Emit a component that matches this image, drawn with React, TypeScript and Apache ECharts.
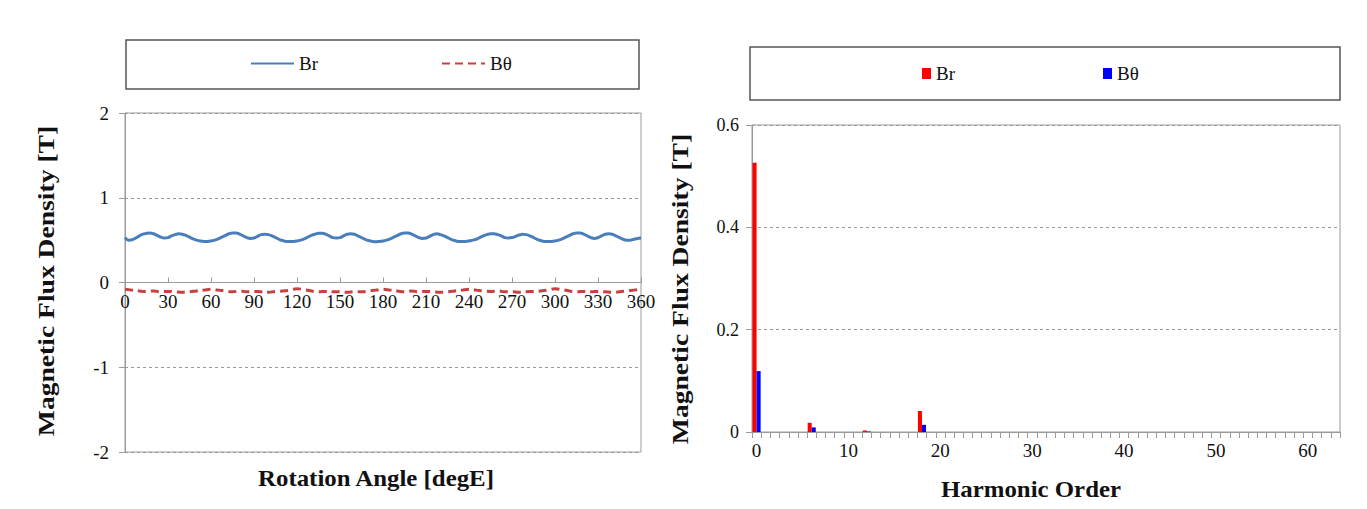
import React, { useEffect, useRef } from "react";
import * as echarts from "echarts";

// ---- Left chart: air-gap flux density vs rotation angle ----
const brStep = 2.5; // degE between Br samples
const brValues = [
  0.53, 0.50, 0.505, 0.525, 0.55, 0.57, 0.58, 0.585, 0.575, 0.555, 0.535, 0.525,
  0.53, 0.55, 0.565, 0.575, 0.57, 0.555, 0.535, 0.515, 0.50, 0.49, 0.485, 0.485,
  0.49, 0.50, 0.515, 0.535, 0.555, 0.575, 0.585, 0.585, 0.57, 0.55, 0.53, 0.52,
  0.525, 0.545, 0.565, 0.57, 0.565, 0.55, 0.53, 0.51, 0.495, 0.485, 0.485, 0.485,
  0.49, 0.50, 0.515, 0.535, 0.555, 0.57, 0.58, 0.58, 0.57, 0.55, 0.53, 0.525,
  0.53, 0.55, 0.57, 0.575, 0.57, 0.55, 0.53, 0.51, 0.495, 0.485, 0.48, 0.485,
  0.49, 0.50, 0.515, 0.535, 0.555, 0.575, 0.585, 0.585, 0.57, 0.55, 0.53, 0.52,
  0.525, 0.545, 0.565, 0.575, 0.565, 0.55, 0.53, 0.51, 0.495, 0.485, 0.485, 0.485,
  0.49, 0.50, 0.51, 0.53, 0.55, 0.565, 0.575, 0.575, 0.565, 0.55, 0.53, 0.525,
  0.53, 0.545, 0.56, 0.57, 0.565, 0.55, 0.53, 0.51, 0.495, 0.485, 0.485, 0.485,
  0.49, 0.50, 0.515, 0.535, 0.555, 0.575, 0.585, 0.585, 0.57, 0.55, 0.53, 0.52,
  0.53, 0.55, 0.57, 0.575, 0.57, 0.55, 0.53, 0.51, 0.50, 0.50, 0.51, 0.52,
  0.525,
];
const bthetaStep = 5; // degE between Bθ samples
const bthetaValues = [
  -0.08, -0.09, -0.10, -0.105, -0.10, -0.11, -0.105, -0.11, -0.115, -0.11, -0.10, -0.09,
  -0.08, -0.09, -0.10, -0.11, -0.10, -0.11, -0.105, -0.11, -0.115, -0.105, -0.10, -0.09,
  -0.075, -0.085, -0.10, -0.11, -0.105, -0.11, -0.11, -0.115, -0.11, -0.11, -0.10, -0.09,
  -0.08, -0.09, -0.10, -0.11, -0.10, -0.11, -0.105, -0.11, -0.115, -0.11, -0.10, -0.09,
  -0.08, -0.09, -0.10, -0.105, -0.10, -0.11, -0.11, -0.115, -0.11, -0.105, -0.10, -0.09,
  -0.075, -0.085, -0.10, -0.11, -0.105, -0.11, -0.105, -0.11, -0.115, -0.11, -0.10, -0.09,
  -0.08,
];
const brAngles = brValues.map((_, i) => i * brStep);
const bthetaAngles = bthetaValues.map((_, i) => i * bthetaStep);

// ---- Right chart: harmonic spectrum ----
const harmonicOrders = Array.from({ length: 64 }, (_, i) => String(i));
const brHarmonics = [
  0.526, 0, 0, 0, 0, 0, 0.018, 0, 0, 0,
  0, 0, 0.003, 0, 0, 0, 0, 0, 0.041, 0,
  0, 0, 0, 0, 0, 0, 0, 0, 0, 0,
  0, 0, 0, 0, 0, 0, 0, 0, 0, 0,
  0, 0, 0, 0, 0, 0, 0, 0, 0, 0,
  0, 0, 0, 0, 0, 0, 0, 0, 0, 0,
  0, 0, 0, 0,
];
const bthetaHarmonics = [
  0.119, 0, 0, 0, 0, 0, 0.009, 0, 0, 0,
  0, 0, 0.001, 0, 0, 0, 0, 0, 0.014, 0,
  0, 0, 0, 0, 0, 0, 0, 0, 0, 0,
  0, 0, 0, 0, 0, 0, 0, 0, 0, 0,
  0, 0, 0, 0, 0, 0, 0, 0, 0, 0,
  0, 0, 0, 0, 0, 0, 0, 0, 0, 0,
  0, 0, 0, 0,
];

const leftYTicks = { min: -2, max: 2, interval: 1 };
const leftXTicks = { min: 0, max: 360, interval: 30 };
const rightYTicks = { min: 0, max: 0.6, interval: 0.2 };

const SERIF = "'Liberation Serif', 'Times New Roman', serif";
const GRID_GREY = "#9a9a9a";

const LEFT_GRID = { left: 125, top: 113, width: 516, height: 339 };
const RIGHT_GRID = { left: 752, top: 125, width: 588, height: 307 };

export default function App() {
  const ref = useRef<HTMLDivElement>(null);

  useEffect(() => {
    if (!ref.current) return;
    const chart = echarts.init(ref.current, undefined, { renderer: "svg" });

    const tickLabel = { fontFamily: SERIF, fontSize: 19, color: "#111" };
    const titleFont = `bold 23px ${SERIF}`;

    chart.setOption({
      animation: false,
      backgroundColor: "#ffffff",
      grid: [
        { ...LEFT_GRID, show: true, borderColor: GRID_GREY, borderWidth: 1 },
        { ...RIGHT_GRID, show: true, borderColor: GRID_GREY, borderWidth: 1 },
      ],
      xAxis: [
        {
          gridIndex: 0,
          type: "value",
          position: "bottom",
          // axis line sits on the zero of the y scale (middle of -2..2)
          offset: -LEFT_GRID.height / 2,
          min: leftXTicks.min,
          max: leftXTicks.max,
          interval: leftXTicks.interval,
          axisLine: { show: true, onZero: false, lineStyle: { color: GRID_GREY, width: 1 } },
          axisTick: { show: true, inside: true, length: 5, lineStyle: { color: GRID_GREY } },
          axisLabel: { ...tickLabel, margin: 9 },
          splitLine: { show: false },
        },
        {
          gridIndex: 1,
          type: "category",
          data: harmonicOrders,
          boundaryGap: true,
          axisLine: { show: true, lineStyle: { color: GRID_GREY, width: 1 } },
          axisTick: { show: true, interval: 0, length: 6, alignWithLabel: false, lineStyle: { color: GRID_GREY } },
          axisLabel: { ...tickLabel, interval: 9, margin: 9 },
          splitLine: { show: false },
        },
      ],
      yAxis: [
        {
          gridIndex: 0,
          type: "value",
          min: leftYTicks.min,
          max: leftYTicks.max,
          interval: leftYTicks.interval,
          axisLine: { show: true, onZero: false, lineStyle: { color: GRID_GREY } },
          axisTick: { show: true, length: 6, lineStyle: { color: GRID_GREY } },
          axisLabel: { ...tickLabel, margin: 16 },
          splitLine: { show: true, lineStyle: { color: GRID_GREY, type: [3, 3], width: 1 } },
        },
        {
          gridIndex: 1,
          type: "value",
          min: rightYTicks.min,
          max: rightYTicks.max,
          interval: rightYTicks.interval,
          axisLine: { show: true, lineStyle: { color: GRID_GREY } },
          axisTick: { show: true, length: 6, lineStyle: { color: GRID_GREY } },
          axisLabel: {
            ...tickLabel,
            fontSize: 18,
            margin: 13,
            formatter: (v: number) => String(Math.round(v * 10) / 10),
          },
          splitLine: { show: true, lineStyle: { color: GRID_GREY, type: [3, 3], width: 1 } },
        },
      ],
      legend: [
        {
          data: ["Br", "Bθ"],
          left: 250,
          top: 54,
          padding: 0,
          itemWidth: 43,
          itemHeight: 14,
          itemGap: 123,
          itemStyle: { opacity: 0 },
          lineStyle: { opacity: 1 },
          textStyle: { fontFamily: SERIF, fontSize: 19, color: "#111" },
          selectedMode: false,
        },
        {
          data: ["Br ", "Bθ "],
          left: 922,
          top: 64,
          padding: 0,
          icon: "rect",
          itemWidth: 9,
          itemHeight: 11,
          itemGap: 148,
          formatter: (n: string) => n.trim(),
          textStyle: { fontFamily: SERIF, fontSize: 19, color: "#111" },
          selectedMode: false,
        },
      ],
      series: [
        {
          name: "Br",
          type: "line",
          xAxisIndex: 0,
          yAxisIndex: 0,
          data: brAngles.map((a, i) => [a, brValues[i]]),
          smooth: 0.4,
          symbol: "none",
          lineStyle: { color: "#4a7ebb", width: 3 },
          itemStyle: { color: "#4a7ebb" },
        },
        {
          name: "Bθ",
          type: "line",
          xAxisIndex: 0,
          yAxisIndex: 0,
          data: bthetaAngles.map((a, i) => [a, bthetaValues[i]]),
          smooth: true,
          symbol: "none",
          lineStyle: { color: "#c8403f", width: 3, type: [8, 5] },
          itemStyle: { color: "#c8403f" },
        },
        {
          name: "Br ",
          type: "bar",
          xAxisIndex: 1,
          yAxisIndex: 1,
          data: brHarmonics,
          barGap: "0%",
          barCategoryGap: "12%",
          itemStyle: { color: "#ff0000" },
        },
        {
          name: "Bθ ",
          type: "bar",
          xAxisIndex: 1,
          yAxisIndex: 1,
          data: bthetaHarmonics,
          itemStyle: { color: "#0000ff" },
        },
      ],
      graphic: [
        { type: "rect", shape: { x: 126, y: 40, width: 513, height: 49 }, style: { fill: "none", stroke: "#555", lineWidth: 1.5 }, silent: true },
        { type: "rect", shape: { x: 750, y: 47, width: 590, height: 53 }, style: { fill: "none", stroke: "#555", lineWidth: 1.5 }, silent: true },
        {
          type: "text",
          x: 46,
          y: 281,
          rotation: Math.PI / 2,
          scaleX: 1.2,
          style: { text: "Magnetic Flux Density [T]", font: titleFont, fill: "#111", textAlign: "center", textVerticalAlign: "middle" },
        },
        {
          type: "text",
          x: 680,
          y: 289,
          rotation: Math.PI / 2,
          scaleX: 1.2,
          style: { text: "Magnetic Flux Density [T]", font: titleFont, fill: "#111", textAlign: "center", textVerticalAlign: "middle" },
        },
        {
          type: "text",
          x: 376,
          y: 478,
          scaleX: 1.08,
          style: { text: "Rotation Angle [degE]", font: titleFont, fill: "#111", textAlign: "center", textVerticalAlign: "middle" },
        },
        {
          type: "text",
          x: 1031,
          y: 489,
          scaleX: 1.08,
          style: { text: "Harmonic Order", font: titleFont, fill: "#111", textAlign: "center", textVerticalAlign: "middle" },
        },
      ],
    });

    return () => chart.dispose();
  }, []);

  return (
    <div
      ref={ref}
      style={{ position: "fixed", left: 0, top: 0, width: 1367, height: 509, background: "#fff" }}
    />
  );
}
